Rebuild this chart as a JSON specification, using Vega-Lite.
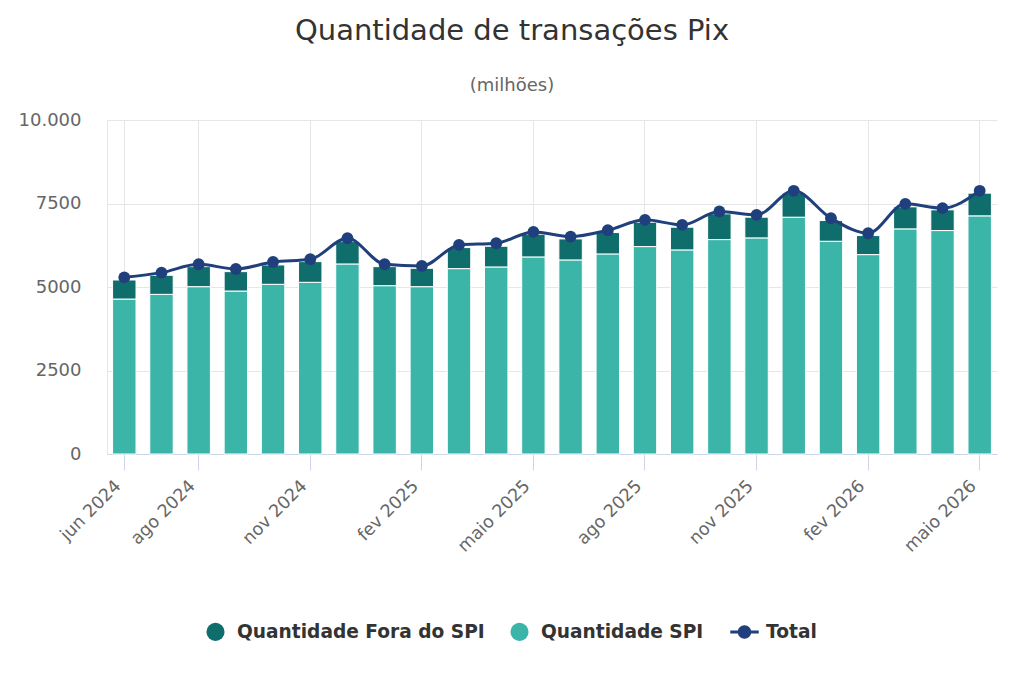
{
  "$schema": "https://vega.github.io/schema/vega-lite/v6.json",
  "width": 890,
  "height": 334,
  "autosize": {"type": "none"},
  "padding": {"left": 107, "top": 120, "right": 27, "bottom": 229},
  "background": "#ffffff",
  "config": {
    "font": "DejaVu Sans",
    "view": {"stroke": null}
  },
  "title": {
    "text": "Quantidade de transações Pix",
    "subtitle": "(milhões)",
    "anchor": "middle",
    "frame": "group",
    "dx": -40,
    "offset": 16,
    "fontSize": 29,
    "fontWeight": "normal",
    "color": "#333333",
    "font": "DejaVu Sans",
    "subtitleFont": "DejaVu Sans",
    "subtitleFontSize": 18,
    "subtitleColor": "#666666",
    "subtitlePadding": 31
  },
  "data": {
    "values": [
      {"mes": "jun 2024", "serie": "Quantidade SPI", "valor": 4640},
      {"mes": "jun 2024", "serie": "Quantidade Fora do SPI", "valor": 570},
      {"mes": "jun 2024", "serie": "Total", "valor": 5290},
      {"mes": "jul 2024", "serie": "Quantidade SPI", "valor": 4780},
      {"mes": "jul 2024", "serie": "Quantidade Fora do SPI", "valor": 570},
      {"mes": "jul 2024", "serie": "Total", "valor": 5430},
      {"mes": "ago 2024", "serie": "Quantidade SPI", "valor": 5010},
      {"mes": "ago 2024", "serie": "Quantidade Fora do SPI", "valor": 600},
      {"mes": "ago 2024", "serie": "Total", "valor": 5680},
      {"mes": "set 2024", "serie": "Quantidade SPI", "valor": 4880},
      {"mes": "set 2024", "serie": "Quantidade Fora do SPI", "valor": 580},
      {"mes": "set 2024", "serie": "Total", "valor": 5540},
      {"mes": "out 2024", "serie": "Quantidade SPI", "valor": 5080},
      {"mes": "out 2024", "serie": "Quantidade Fora do SPI", "valor": 580},
      {"mes": "out 2024", "serie": "Total", "valor": 5750},
      {"mes": "nov 2024", "serie": "Quantidade SPI", "valor": 5140},
      {"mes": "nov 2024", "serie": "Quantidade Fora do SPI", "valor": 620},
      {"mes": "nov 2024", "serie": "Total", "valor": 5830},
      {"mes": "dez 2024", "serie": "Quantidade SPI", "valor": 5690},
      {"mes": "dez 2024", "serie": "Quantidade Fora do SPI", "valor": 670},
      {"mes": "dez 2024", "serie": "Total", "valor": 6460},
      {"mes": "jan 2025", "serie": "Quantidade SPI", "valor": 5040},
      {"mes": "jan 2025", "serie": "Quantidade Fora do SPI", "valor": 570},
      {"mes": "jan 2025", "serie": "Total", "valor": 5680},
      {"mes": "fev 2025", "serie": "Quantidade SPI", "valor": 5010},
      {"mes": "fev 2025", "serie": "Quantidade Fora do SPI", "valor": 550},
      {"mes": "fev 2025", "serie": "Total", "valor": 5630},
      {"mes": "mar 2025", "serie": "Quantidade SPI", "valor": 5550},
      {"mes": "mar 2025", "serie": "Quantidade Fora do SPI", "valor": 630},
      {"mes": "mar 2025", "serie": "Total", "valor": 6260},
      {"mes": "abr 2025", "serie": "Quantidade SPI", "valor": 5600},
      {"mes": "abr 2025", "serie": "Quantidade Fora do SPI", "valor": 620},
      {"mes": "abr 2025", "serie": "Total", "valor": 6310},
      {"mes": "maio 2025", "serie": "Quantidade SPI", "valor": 5900},
      {"mes": "maio 2025", "serie": "Quantidade Fora do SPI", "valor": 680},
      {"mes": "maio 2025", "serie": "Total", "valor": 6650},
      {"mes": "jun 2025", "serie": "Quantidade SPI", "valor": 5810},
      {"mes": "jun 2025", "serie": "Quantidade Fora do SPI", "valor": 630},
      {"mes": "jun 2025", "serie": "Total", "valor": 6510},
      {"mes": "jul 2025", "serie": "Quantidade SPI", "valor": 5990},
      {"mes": "jul 2025", "serie": "Quantidade Fora do SPI", "valor": 640},
      {"mes": "jul 2025", "serie": "Total", "valor": 6700},
      {"mes": "ago 2025", "serie": "Quantidade SPI", "valor": 6210},
      {"mes": "ago 2025", "serie": "Quantidade Fora do SPI", "valor": 730},
      {"mes": "ago 2025", "serie": "Total", "valor": 7010},
      {"mes": "set 2025", "serie": "Quantidade SPI", "valor": 6110},
      {"mes": "set 2025", "serie": "Quantidade Fora do SPI", "valor": 680},
      {"mes": "set 2025", "serie": "Total", "valor": 6860},
      {"mes": "out 2025", "serie": "Quantidade SPI", "valor": 6420},
      {"mes": "out 2025", "serie": "Quantidade Fora do SPI", "valor": 770},
      {"mes": "out 2025", "serie": "Total", "valor": 7260},
      {"mes": "nov 2025", "serie": "Quantidade SPI", "valor": 6470},
      {"mes": "nov 2025", "serie": "Quantidade Fora do SPI", "valor": 620},
      {"mes": "nov 2025", "serie": "Total", "valor": 7160},
      {"mes": "dez 2025", "serie": "Quantidade SPI", "valor": 7090},
      {"mes": "dez 2025", "serie": "Quantidade Fora do SPI", "valor": 720},
      {"mes": "dez 2025", "serie": "Total", "valor": 7880},
      {"mes": "jan 2026", "serie": "Quantidade SPI", "valor": 6370},
      {"mes": "jan 2026", "serie": "Quantidade Fora do SPI", "valor": 620},
      {"mes": "jan 2026", "serie": "Total", "valor": 7060},
      {"mes": "fev 2026", "serie": "Quantidade SPI", "valor": 5970},
      {"mes": "fev 2026", "serie": "Quantidade Fora do SPI", "valor": 570},
      {"mes": "fev 2026", "serie": "Total", "valor": 6610},
      {"mes": "mar 2026", "serie": "Quantidade SPI", "valor": 6740},
      {"mes": "mar 2026", "serie": "Quantidade Fora do SPI", "valor": 660},
      {"mes": "mar 2026", "serie": "Total", "valor": 7490},
      {"mes": "abr 2026", "serie": "Quantidade SPI", "valor": 6690},
      {"mes": "abr 2026", "serie": "Quantidade Fora do SPI", "valor": 620},
      {"mes": "abr 2026", "serie": "Total", "valor": 7360},
      {"mes": "maio 2026", "serie": "Quantidade SPI", "valor": 7130},
      {"mes": "maio 2026", "serie": "Quantidade Fora do SPI", "valor": 680},
      {"mes": "maio 2026", "serie": "Total", "valor": 7880}
    ]
  },
  "encoding": {
    "x": {
      "field": "mes",
      "type": "ordinal",
      "sort": null,
      "scale": {"paddingInner": 0.37, "paddingOuter": 0.15},
      "axis": {
        "title": null,
        "values": ["jun 2024", "ago 2024", "nov 2024", "fev 2025", "maio 2025", "ago 2025", "nov 2025", "fev 2026", "maio 2026"],
        "bandPosition": 0.5,
        "grid": true,
        "gridColor": "#e6e6e6",
        "gridWidth": 1,
        "domainColor": "#ccd6eb",
        "tickColor": "#ccd6eb",
        "tickSize": 16,
        "labelAngle": -45,
        "labelAlign": "right",
        "labelBaseline": "middle",
        "labelFontSize": 17.5,
        "labelColor": "#666666",
        "labelFont": "DejaVu Sans",
        "labelPadding": 13,
        "labelOffset": -6
      }
    },
    "color": {
      "field": "serie",
      "type": "nominal",
      "scale": {
        "domain": ["Quantidade Fora do SPI", "Quantidade SPI", "Total"],
        "range": ["#0f6e6b", "#3cb5a9", "#1f407c"]
      },
      "legend": {
        "title": null,
        "orient": "none",
        "direction": "horizontal",
        "legendX": 99,
        "legendY": 502,
        "symbolSize": 900,
        "symbolStrokeWidth": 0,
        "labelFontSize": 18.6,
        "labelFontWeight": "bold",
        "labelColor": "#333333",
        "labelFont": "DejaVu Sans",
        "labelLimit": 0,
        "labelOffset": 12,
        "columnPadding": 25,
        "encode": {
          "symbols": {
            "update": {
              "shape": {"signal": "datum.value === 'Total' ? 'M-0.55,-0.1 L1.35,-0.1 L1.35,0.1 L-0.55,0.1 Z M-0.05,0 A0.45,0.45 0 1,1 0.85,0 A0.45,0.45 0 1,1 -0.05,0 Z' : 'circle'"},
              "size": {"signal": "datum.value === 'Total' ? 900 : 330"},
              "fill": {"scale": "color", "field": "value"},
              "opacity": {"value": 1},
              "strokeWidth": {"value": 0}
            }
          },
          "labels": {
            "update": {
              "dx": {"signal": "datum.value === 'Total' ? 6 : 0"}
            }
          }
        }
      }
    }
  },
  "layer": [
    {
      "transform": [{"filter": "datum.serie !== 'Total'"}],
      "mark": {"type": "bar", "stroke": "#ffffff", "strokeWidth": 1},
      "encoding": {
        "y": {
          "field": "valor",
          "type": "quantitative",
          "stack": "zero",
          "scale": {"domain": [0, 10000], "nice": false},
          "axis": {
            "title": null,
            "values": [0, 2500, 5000, 7500, 10000],
            "labelExpr": "datum.value >= 10000 ? '10.000' : format(datum.value, 'd')",
            "grid": true,
            "gridColor": "#e6e6e6",
            "domain": true,
            "domainColor": "#e6e6e6",
            "ticks": false,
            "labelFontSize": 18,
            "labelColor": "#666666",
            "labelFont": "DejaVu Sans",
            "labelPadding": 26
          }
        },
        "order": {"field": "serie", "sort": "descending"}
      }
    },
    {
      "transform": [{"filter": "datum.serie === 'Total'"}],
      "mark": {"type": "line", "interpolate": "monotone", "strokeWidth": 3},
      "encoding": {
        "y": {"field": "valor", "type": "quantitative"}
      }
    },
    {
      "transform": [{"filter": "datum.serie === 'Total'"}],
      "mark": {"type": "point", "filled": true, "size": 140, "opacity": 1},
      "encoding": {
        "y": {"field": "valor", "type": "quantitative"}
      }
    }
  ]
}
